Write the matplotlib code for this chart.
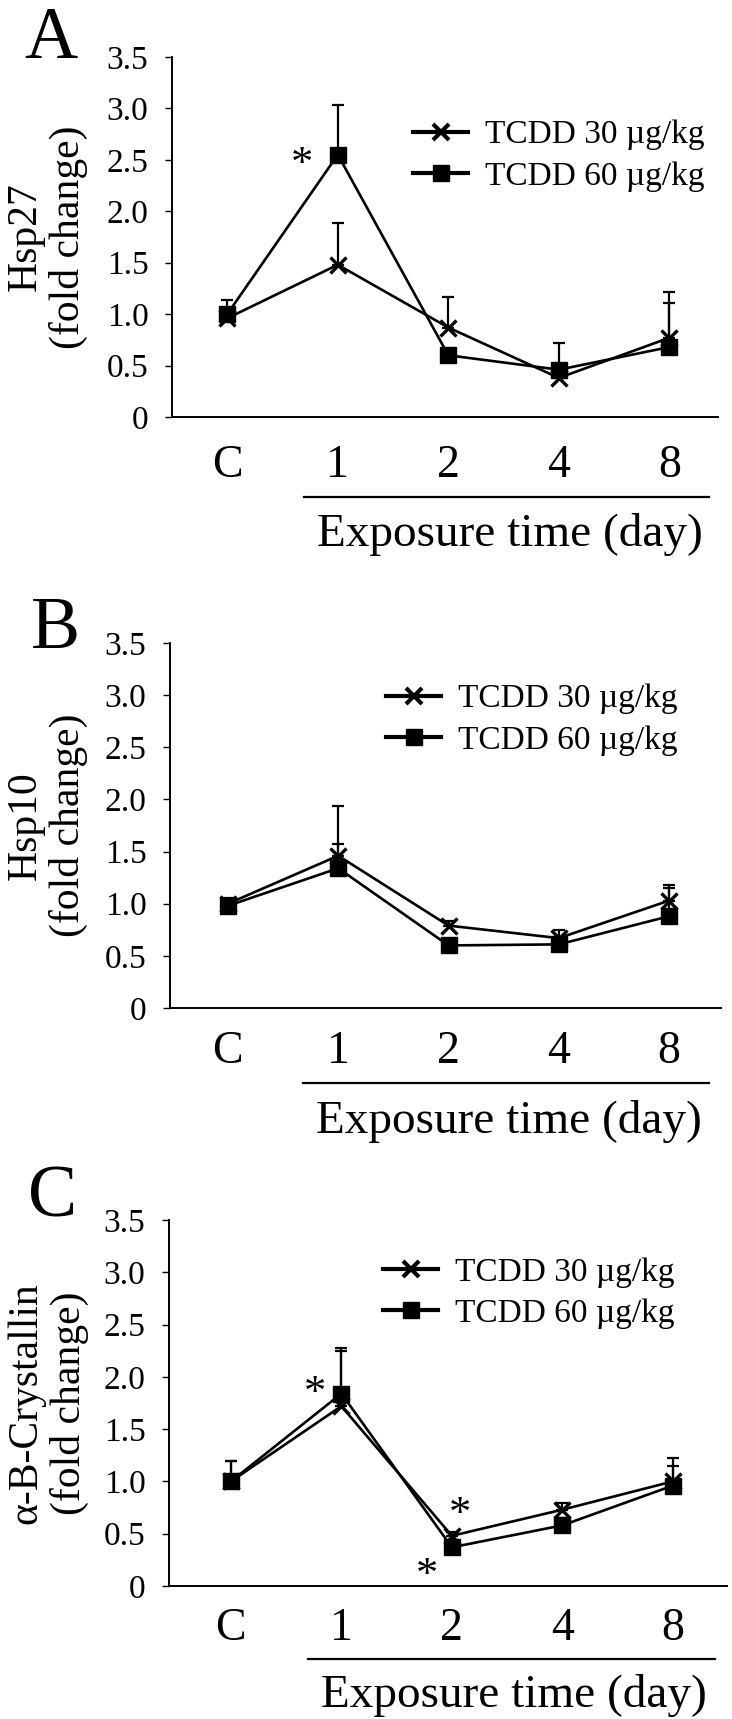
import matplotlib
matplotlib.use('Agg')
import matplotlib.pyplot as plt
import matplotlib.transforms as mtransforms
from matplotlib.lines import Line2D
import numpy as np

# ---------------- data ----------------
categories = ['C', '1', '2', '4', '8']
series_labels = ['TCDD 30 µg/kg', 'TCDD 60 µg/kg']
yticks = [0, 0.5, 1.0, 1.5, 2.0, 2.5, 3.0, 3.5]
ytick_labels = ['0', '0.5', '1.0', '1.5', '2.0', '2.5', '3.0', '3.5']
xlabel_text = 'Exposure time (day)'

hsp27_30 = [0.96, 1.48, 0.87, 0.38, 0.77]
hsp27_30_err = [0.10, 0.41, 0.30, 0.05, 0.45]
hsp27_60 = [1.00, 2.55, 0.60, 0.46, 0.68]
hsp27_60_err = [0.14, 0.48, 0.05, 0.26, 0.43]
hsp27_stars = [(0.68, 2.55)]

hsp10_30 = [1.00, 1.46, 0.79, 0.67, 1.03]
hsp10_30_err = [0.05, 0.48, 0.04, 0.08, 0.15]
hsp10_60 = [0.98, 1.34, 0.60, 0.61, 0.88]
hsp10_60_err = [0.04, 0.23, 0.03, 0.05, 0.27]
hsp10_stars = []

cry_30 = [1.00, 1.72, 0.48, 0.73, 1.00]
cry_30_err = [0.20, 0.53, 0.04, 0.06, 0.22]
cry_60 = [1.00, 1.84, 0.37, 0.58, 0.96]
cry_60_err = [0.20, 0.44, 0.06, 0.07, 0.19]
cry_stars = [(0.76, 1.94), (2.07, 0.78), (1.77, 0.20)]

# ---------------- style / layout ----------------
plt.rcParams['font.family'] = ['Liberation Serif', 'DejaVu Serif']
W, H = 732, 1719
fig = plt.figure(figsize=(W / 100, H / 100), dpi=100)

panels = [
    dict(letter='A', ylabel='Hsp27\n(fold change)',
         s30=hsp27_30, e30=hsp27_30_err, s60=hsp27_60, e60=hsp27_60_err, stars=hsp27_stars,
         box=(172, 57, 718, 417), xlim=(-0.50, 4.44), leg=(413, 120), xpad=20.0,
         bar_y=497, bar_x=(0.69, 4.36), exp=(2.56, 546), ylab_x=88, let=(24, 58)),
    dict(letter='B', ylabel='Hsp10\n(fold change)',
         s30=hsp10_30, e30=hsp10_30_err, s60=hsp10_60, e60=hsp10_60_err, stars=hsp10_stars,
         box=(170, 643, 721, 1008), xlim=(-0.525, 4.47), leg=(386, 684), xpad=16.0,
         bar_y=1083, bar_x=(0.68, 4.36), exp=(2.55, 1133), ylab_x=88, let=(31, 648)),
    dict(letter='C', ylabel='α-B-Crystallin\n(fold change)',
         s30=cry_30, e30=cry_30_err, s60=cry_60, e60=cry_60_err, stars=cry_stars,
         box=(169, 1220, 727, 1586), xlim=(-0.56, 4.49), leg=(383, 1257), xpad=15.5,
         bar_y=1659, bar_x=(0.70, 4.38), exp=(2.56, 1707), ylab_x=89, let=(28, 1216)),
]

x = np.arange(len(categories))
zeros = np.zeros(len(categories))

for p in panels:
    l, t, r, b = p['box']
    ax = fig.add_axes([l / W, 1 - b / H, (r - l) / W, (b - t) / H])

    ax.errorbar(x, p['s30'], yerr=[zeros, p['e30']], fmt='none', ecolor='k',
                elinewidth=1.6, capsize=4, capthick=1.6, zorder=2)
    ax.errorbar(x, p['s60'], yerr=[zeros, p['e60']], fmt='none', ecolor='k',
                elinewidth=1.6, capsize=4, capthick=1.6, zorder=2)
    ax.plot(x, p['s30'], color='k', lw=1.9, marker='x', ms=11, mew=2.4, zorder=3)
    ax.plot(x, p['s60'], color='k', lw=1.9, marker='s', ms=11.5, mfc='k', mec='k', zorder=4)

    for sx, sy in p['stars']:
        ax.annotate('*', (sx, sy), xytext=(0, -15.5), textcoords='offset points',
                    ha='center', va='baseline', fontsize=32)

    ax.set_xlim(*p['xlim'])
    ax.set_ylim(0, 3.5)
    ax.set_yticks(yticks)
    ax.set_yticklabels(ytick_labels)
    ax.set_xticks(x)
    ax.set_xticklabels(categories)
    ax.tick_params(axis='y', direction='out', length=5, width=1.0, pad=12, labelsize=24)
    ax.tick_params(axis='x', length=0, pad=p['xpad'], labelsize=33)
    for s in ['top', 'right']:
        ax.spines[s].set_visible(False)
    for s in ['left', 'bottom']:
        ax.spines[s].set_linewidth(1.4)

    ax.set_ylabel(p['ylabel'], fontsize=30, linespacing=1.15)
    ax.yaxis.set_label_coords((p['ylab_x'] - l) / (r - l), 0.5)

    trans = mtransforms.blended_transform_factory(ax.transData, ax.transAxes)
    yb = (b - p['bar_y']) / (b - t)
    ax.plot(list(p['bar_x']), [yb, yb], transform=trans, clip_on=False, color='k', lw=1.6)
    ex, ey = p['exp']
    ax.text(ex, (b - ey) / (b - t), xlabel_text, transform=trans, ha='center',
            va='baseline', fontsize=34)

    handles = [
        Line2D([], [], color='k', lw=3, marker='x', ms=12, mew=3),
        Line2D([], [], color='k', lw=3, marker='s', ms=12),
    ]
    lx, ly = p['leg']
    ax.legend(handles, series_labels, loc='upper left',
              bbox_to_anchor=((lx - l) / (r - l), (b - ly) / (b - t)),
              borderpad=0, borderaxespad=0, frameon=False, fontsize=24,
              handlelength=1.65, handletextpad=0.5, labelspacing=0.32)

    fig.text(p['let'][0] / W, 1 - p['let'][1] / H, p['letter'], fontsize=53,
             ha='left', va='baseline')

fig.savefig('out.png', dpi=100)
